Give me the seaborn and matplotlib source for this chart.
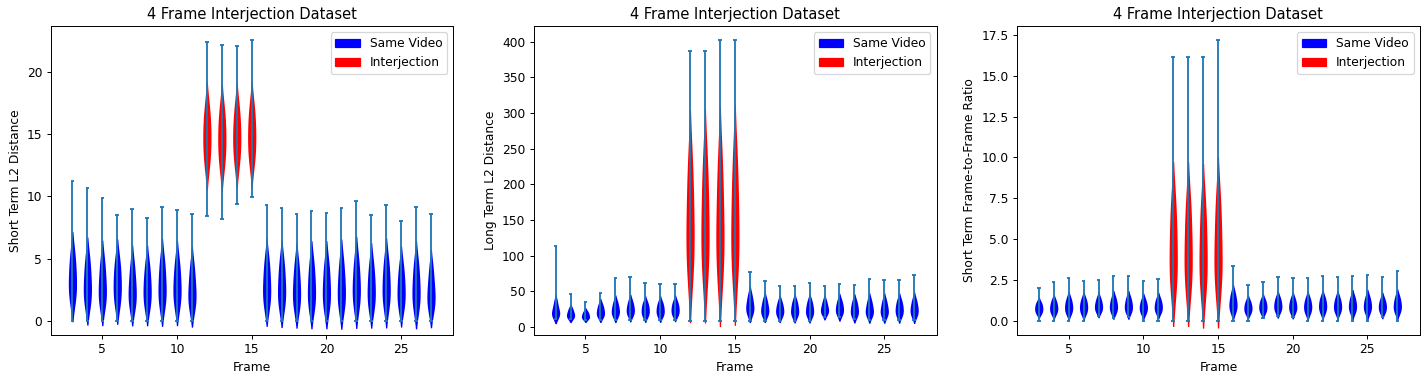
import matplotlib
matplotlib.use("Agg")
import matplotlib.pyplot as plt
import matplotlib.patches as mpatches
import seaborn as sns
import pandas as pd

# frames shown on the x axis and the ones holding the interjected clip
frames = list(range(3, 28))
interjection_frames = [12, 13, 14, 15]

# short term L2 distance: whisker ends and a few body quantiles per frame
st_min = [0, 0, 0, 0, 0, 0, 0, 0, 0, 8.44, 8.2, 9.4, 9.99,
          0, 0, 0, 0, 0, 0, 0, 0, 0, 0, 0, 0]
st_max = [11.2, 10.7, 9.9, 8.5, 9.0, 8.3, 9.15, 8.9, 8.6, 22.45, 22.2, 22.1, 22.55,
          9.3, 9.1, 8.6, 8.85, 8.65, 9.1, 9.6, 8.5, 9.35, 8.0, 9.15, 8.6]
st_body = [
    [1.6, 2.4, 3.3, 4.3, 5.5], [1.3, 2.0, 2.9, 3.9, 5.1], [1.2, 1.9, 2.7, 3.7, 4.9],
    [1.3, 2.1, 3.0, 3.9, 5.0], [1.1, 1.7, 2.5, 3.4, 4.6], [1.1, 1.8, 2.6, 3.5, 4.6],
    [1.2, 1.9, 2.8, 3.8, 5.0], [1.2, 1.9, 2.8, 3.7, 4.9], [1.0, 1.6, 2.4, 3.3, 4.5],
    [12.5, 13.7, 14.8, 15.9, 17.2], [12.4, 13.6, 14.7, 15.8, 17.1],
    [12.6, 13.8, 14.8, 15.9, 17.2], [12.7, 13.8, 14.9, 16.0, 17.3],
    [1.2, 1.9, 2.8, 3.8, 5.0], [1.1, 1.8, 2.7, 3.7, 4.9], [1.0, 1.7, 2.5, 3.5, 4.7],
    [1.0, 1.7, 2.6, 3.6, 4.8], [1.0, 1.7, 2.6, 3.6, 4.8], [1.0, 1.7, 2.6, 3.6, 4.9],
    [1.1, 1.9, 2.8, 3.8, 5.1], [1.0, 1.7, 2.6, 3.5, 4.7], [1.1, 1.9, 2.8, 3.8, 5.0],
    [1.0, 1.7, 2.5, 3.4, 4.5], [1.0, 1.7, 2.6, 3.6, 4.8], [0.9, 1.5, 2.2, 3.1, 4.3],
]

# long term L2 distance
lt_min = [11.2, 10.8, 9.4, 9.4, 9.0, 9.0, 9.0, 9.0, 9.0, 8.5, 8.5, 8.5, 8.5,
          8.8, 8.8, 8.8, 8.8, 8.8, 14.5, 13.6, 11.0, 9.0, 9.0, 9.0, 9.0]
lt_max = [114, 45.8, 35.5, 48, 68, 69.6, 62, 60.7, 59.8, 387, 387, 402, 402,
          77.6, 64.5, 57, 58, 62, 57, 60.7, 58.4, 67.3, 66, 66, 73.4]
lt_body = [
    [14, 17, 21, 27, 36], [12, 14.5, 17.5, 21, 26], [11, 13, 15.5, 18.5, 22],
    [14, 17, 21.5, 26, 32], [15, 19, 23.5, 29, 36], [16, 20, 25, 30, 37],
    [15, 19, 24, 29, 35], [15, 19, 24, 29, 35], [16, 20, 25, 30, 36],
    [75, 105, 142, 185, 235], [75, 105, 143, 186, 236],
    [72, 103, 140, 185, 238], [74, 105, 143, 188, 240],
    [18, 23, 29, 36, 46], [16, 20, 25, 31, 39], [15, 19, 24, 29, 36],
    [15, 19, 24, 30, 37], [15, 19, 24, 30, 37], [18, 21, 25, 30, 37],
    [17, 21, 26, 31, 38], [15, 19, 24, 30, 37], [15, 19, 24, 30, 38],
    [15, 19, 24, 30, 38], [15, 20, 25, 31, 38], [15, 20, 25, 31, 39],
]

# short term frame-to-frame ratio
fr_min = [0, 0, 0, 0, 0.27, 0.2, 0.22, 0, 0, 0, 0, 0, 0,
          0, 0, 0.18, 0.28, 0.24, 0, 0, 0, 0, 0, 0.24, 0]
fr_max = [2.02, 2.36, 2.61, 2.44, 2.5, 2.73, 2.73, 2.44, 2.55, 16.15, 16.15, 16.15, 17.17,
          3.38, 2.18, 2.36, 2.67, 2.61, 2.61, 2.73, 2.67, 2.77, 2.83, 2.67, 3.04]
fr_body = [
    [0.45, 0.6, 0.78, 0.95, 1.15], [0.45, 0.62, 0.82, 1.02, 1.28], [0.45, 0.65, 0.88, 1.1, 1.4],
    [0.45, 0.65, 0.88, 1.1, 1.38], [0.55, 0.72, 0.92, 1.12, 1.4], [0.5, 0.7, 0.92, 1.15, 1.45],
    [0.5, 0.7, 0.92, 1.15, 1.45], [0.45, 0.65, 0.85, 1.05, 1.32], [0.5, 0.68, 0.9, 1.1, 1.38],
    [2.0, 3.0, 4.3, 5.8, 7.4], [2.0, 3.0, 4.3, 5.8, 7.4],
    [1.9, 2.9, 4.2, 5.7, 7.3], [2.0, 3.0, 4.3, 5.9, 7.6],
    [0.55, 0.8, 1.05, 1.35, 1.75], [0.45, 0.62, 0.82, 1.0, 1.25], [0.5, 0.68, 0.88, 1.08, 1.32],
    [0.55, 0.75, 0.95, 1.18, 1.45], [0.5, 0.7, 0.9, 1.12, 1.4], [0.45, 0.68, 0.9, 1.12, 1.42],
    [0.5, 0.72, 0.95, 1.18, 1.48], [0.5, 0.7, 0.93, 1.15, 1.45], [0.5, 0.72, 0.95, 1.18, 1.5],
    [0.5, 0.72, 0.95, 1.18, 1.5], [0.5, 0.7, 0.9, 1.1, 1.38], [0.5, 0.72, 0.95, 1.2, 1.52],
]

palette = {"Same Video": "blue", "Interjection": "red"}


def plot_panel(ax, body, mins, maxs, ylabel):
    """Violin per frame, with min/max bars drawn on top like plt.violinplot"""
    rows = []
    for f, vals in zip(frames, body):
        grp = "Interjection" if f in interjection_frames else "Same Video"
        for v in vals:
            rows.append({"Frame": f, "value": v, "group": grp})
    df = pd.DataFrame(rows)

    sns.violinplot(data=df, x="Frame", y="value", hue="group", palette=palette,
                   native_scale=True, dodge=False, inner=None, cut=1.5,
                   density_norm="width", width=0.55, saturation=1,
                   linewidth=0, legend=False, ax=ax)

    ax.vlines(frames, mins, maxs, color="#1f77b4", lw=1.5)
    ax.hlines(mins, [f - 0.12 for f in frames], [f + 0.12 for f in frames], color="#1f77b4", lw=1.5)
    ax.hlines(maxs, [f - 0.12 for f in frames], [f + 0.12 for f in frames], color="#1f77b4", lw=1.5)

    lo, hi = min(mins), max(maxs)
    pad = 0.05 * (hi - lo)
    ax.set_ylim(lo - pad, hi + pad)
    ax.set_xlim(1.55, 28.5)

    ax.set_title("4 Frame Interjection Dataset")
    ax.set_xlabel("Frame")
    ax.set_ylabel(ylabel)
    handles = [mpatches.Patch(color="blue", label="Same Video"),
               mpatches.Patch(color="red", label="Interjection")]
    ax.legend(handles=handles, loc="upper right")


# drawn at dpi 88 so the default text sizes match the reference scale
fig, axes = plt.subplots(1, 3, figsize=(1426 / 88, 375 / 88), dpi=88)
plot_panel(axes[0], st_body, st_min, st_max, "Short Term L2 Distance")
plot_panel(axes[1], lt_body, lt_min, lt_max, "Long Term L2 Distance")
plot_panel(axes[2], fr_body, fr_min, fr_max, "Short Term Frame-to-Frame Ratio")

plt.subplots_adjust(left=0.0356, right=0.9956, bottom=0.107, top=0.93, wspace=0.2)
plt.savefig("out.png", dpi=88)
